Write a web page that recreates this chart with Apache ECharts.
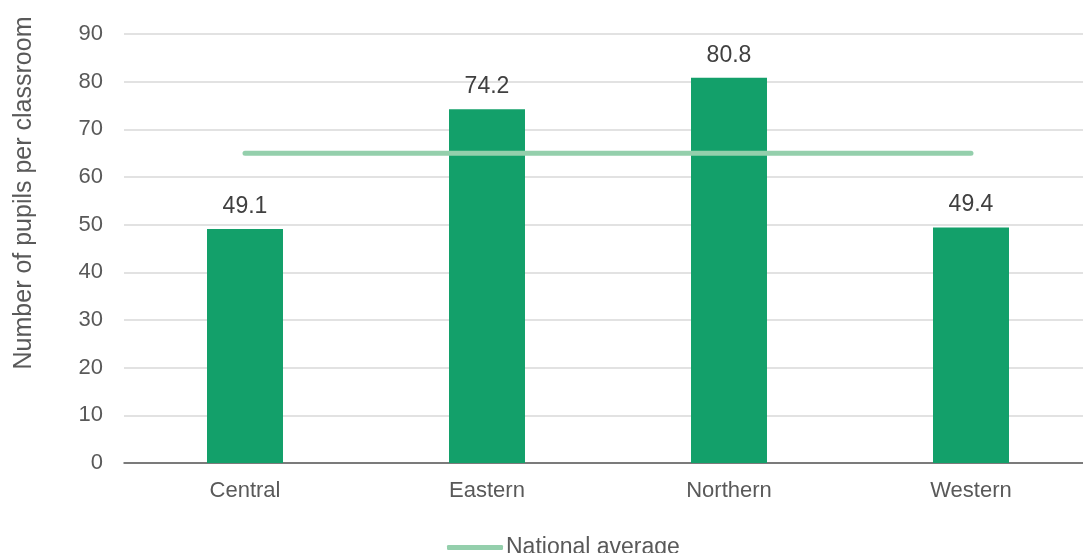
<!DOCTYPE html>
<html>
<head>
<meta charset="utf-8">
<script src="https://cdn.jsdelivr.net/npm/echarts@6/dist/echarts.min.js"></script>
<style>
  html, body { margin: 0; padding: 0; background: #fff; overflow: hidden; }
  /* the plot runs a little past the right edge of the window, as in the original */
  #chart { width: 1093px; height: 553px; }
</style>
</head>
<body>
<div id="chart"></div>
<script>
// data
const regions = ['Central', 'Eastern', 'Northern', 'Western'];
const pupilsPerClassroom = [49.1, 74.2, 80.8, 49.4];
const nationalAverage = [65, 65, 65, 65];

const chart = echarts.init(document.getElementById('chart'));
const font = 'Liberation Sans, Arial, sans-serif';

chart.setOption({
  animation: false,
  textStyle: { fontFamily: font },
  grid: { left: 124, right: 1, top: 34, height: 429 },
  legend: {
    data: ['National average'],
    left: 442,
    top: 531,
    icon: 'roundRect',
    itemWidth: 56,
    itemHeight: 5,
    itemGap: 4,
    textStyle: { fontSize: 23, color: '#595959', fontFamily: font, padding: [0, 0, 0, -2] }
  },
  graphic: [{
    type: 'text',
    x: 12,
    y: 193,
    rotation: Math.PI / 2,
    style: {
      text: 'Number of pupils per classroom',
      font: '25px ' + font,
      fill: '#595959',
      align: 'center',
      verticalAlign: 'top'
    }
  }],
  xAxis: {
    type: 'category',
    data: regions,
    axisTick: { show: false },
    axisLine: { lineStyle: { color: '#595959', width: 1.5 } },
    axisLabel: { color: '#595959', fontSize: 22, margin: 17 }
  },
  yAxis: {
    type: 'value',
    min: 0,
    max: 90,
    interval: 10,
    axisLabel: { color: '#595959', fontSize: 22, margin: 21 },
    splitLine: { lineStyle: { color: '#d9d9d9', width: 1.5 } }
  },
  series: [
    {
      name: 'Pupils per classroom',
      type: 'bar',
      data: pupilsPerClassroom,
      barWidth: '31.4%',
      itemStyle: { color: '#13a06a' },
      label: {
        show: true,
        position: 'top',
        distance: 11,
        color: '#404040',
        fontSize: 23,
        formatter: p => p.value.toFixed(1)
      }
    },
    {
      name: 'National average',
      type: 'line',
      data: nationalAverage,
      symbol: 'none',
      lineStyle: { color: '#94cfac', width: 5, cap: 'round' },
      itemStyle: { color: '#94cfac' }
    }
  ]
});
</script>
</body>
</html>
